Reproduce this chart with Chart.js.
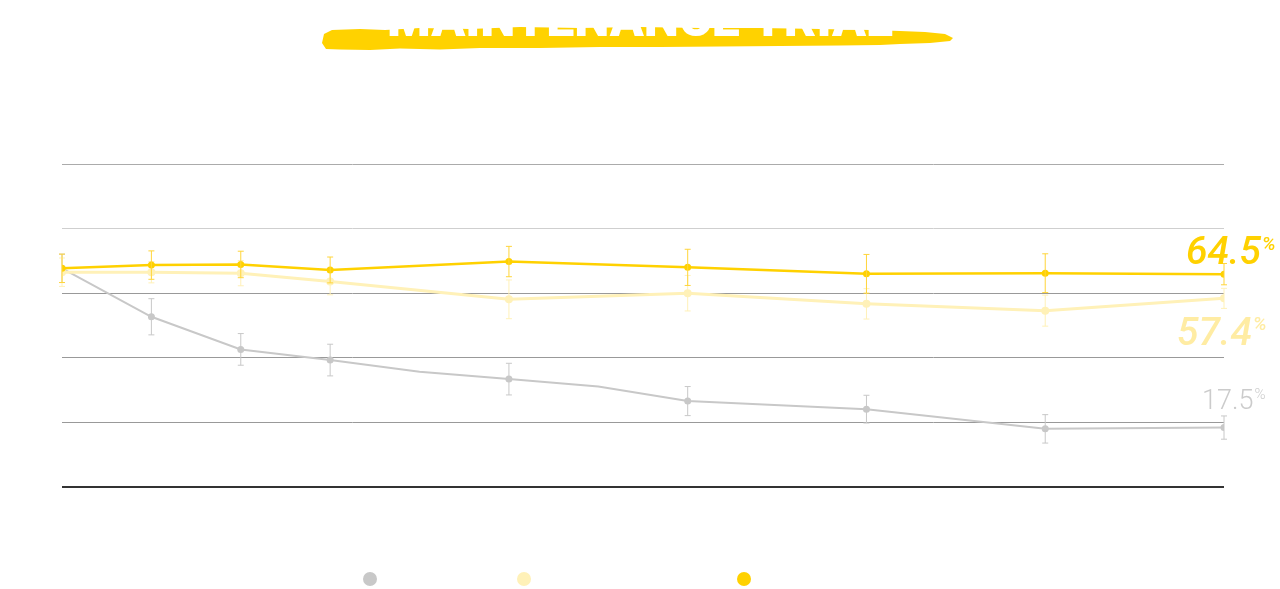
<!DOCTYPE html>
<html>
<head>
<meta charset="utf-8">
<title>Maintenance trial</title>
<script src="https://cdn.jsdelivr.net/npm/chart.js@4.4.1/dist/chart.umd.min.js"></script>
<style>
  html, body { margin: 0; padding: 0; background: #fff; }
  #wrap { position: relative; width: 1280px; height: 589px; }
</style>
</head>
<body>
<div id="wrap"><canvas id="trialChart"></canvas></div>
<script>
// Data (x = week of trial, y = % on 0-100 axis)
const weeks = [0, 4, 8, 12, 20, 28, 36, 44, 52];
const placeboWeeks = [0, 4, 8, 12, 16, 20, 24, 28, 36, 44, 52];

const placebo = [67.7, 52.7, 42.6, 39.3, 35.7, 33.4, 31.1, 26.6, 24.1, 18.0, 18.4];
const placeboErr = [4.4, 5.6, 4.9, 4.9, null, 4.9, null, 4.5, 4.3, 4.4, 3.6];
const lowDose = [66.5, 66.5, 66.2, 63.6, 58.1, 60.0, 56.7, 54.6, 58.4];
const lowDoseErr = [4.4, 3.3, 3.9, 4.1, 6.0, 5.5, 4.7, 4.8, 3.1];
const highDose = [67.7, 68.7, 68.9, 67.2, 69.8, 68.0, 66.0, 66.2, 65.9];
const highDoseErr = [4.4, 4.4, 4.1, 4.0, 4.7, 5.6, 6.0, 6.0, 3.3];

const seriesNames = ['Placebo', 'Low dose', 'High dose'];
const endLabels = ['17.5', '57.4', '64.5'];
const yTicks = [0, 20, 40, 60, 80, 100];
const chartTitle = 'MAINTENANCE TRIAL';

const GRAY = '#c8c8c8';
const LIGHT = '#fff1b8';
const GOLD = '#ffd100';

function toPoints(xs, ys) {
    return xs.map((x, i) => ({ x: x, y: ys[i] }));
}

// gridline colours per tick value
function gridColor(ctx) {
    const v = ctx.tick ? ctx.tick.value : null;
    if (v === 0) return '#333';
    if (v === 80) return '#cfcfcf';
    if (v === 100) return '#ababab';
    return '#999';
}

// Error bars, drawn right after each dataset so stacking follows dataset order
const errorBars = {
    id: 'errorBars',
    afterDatasetDraw(chart, args) {
        const ds = chart.data.datasets[args.index];
        if (!ds.errors) return;
        const ctx = chart.ctx;
        const yScale = chart.scales.y;
        ctx.save();
        ctx.strokeStyle = ds.errorColor || ds.borderColor;
        ctx.lineWidth = 1;
        args.meta.data.forEach((pt, j) => {
            const e = ds.errors[j];
            if (e == null) return;
            const v = ds.data[j].y;
            const top = yScale.getPixelForValue(v + e);
            const bot = yScale.getPixelForValue(v - e);
            ctx.beginPath();
            ctx.moveTo(pt.x, top); ctx.lineTo(pt.x, bot);
            ctx.moveTo(pt.x - 3, top); ctx.lineTo(pt.x + 3, top);
            ctx.moveTo(pt.x - 3, bot); ctx.lineTo(pt.x + 3, bot);
            ctx.stroke();
        });
        ctx.restore();
    }
};

// Value labels at the end of each line
const endValueLabels = {
    id: 'endValueLabels',
    afterDraw(chart) {
        const ctx = chart.ctx;
        const styles = [
            { font: '300 27px Roboto', small: '300 15px Roboto', color: '#cbcbcb', dx: -22, dy: -19, supDy: -10 },
            { font: 'italic 500 39px Roboto', small: 'italic 500 19px Roboto', color: '#ffeca3', dx: -47, dy: 47, supDy: -15 },
            { font: 'italic 500 39px Roboto', small: 'italic 500 19px Roboto', color: '#ffd100', dx: -38, dy: -10, supDy: -14 }
        ];
        chart.data.datasets.forEach((ds, i) => {
            const meta = chart.getDatasetMeta(i);
            const last = meta.data[meta.data.length - 1];
            const s = styles[i];
            ctx.save();
            ctx.fillStyle = s.color;
            ctx.textBaseline = 'alphabetic';
            ctx.textAlign = 'left';
            ctx.font = s.font;
            const x = last.x + s.dx;
            const y = last.y + s.dy;
            ctx.fillText(endLabels[i], x, y);
            const w = ctx.measureText(endLabels[i]).width;
            ctx.font = s.small;
            ctx.fillText('%', x + w + 1, y + s.supDy);
            ctx.restore();
        });
    }
};

// Brush-stroke title and dot legend
const decorations = {
    id: 'decorations',
    beforeDraw(chart) {
        const ctx = chart.ctx;
        ctx.save();
        // brush stroke
        const top = [[324, 34], [332, 30], [360, 29], [385, 30], [420, 28], [470, 29], [520, 27],
                     [580, 28], [640, 27], [700, 28], [760, 28], [820, 29], [870, 30], [900, 31],
                     [925, 32], [945, 34], [953, 38]];
        const bottom = [[950, 41], [930, 43], [900, 44], [880, 45], [840, 45.5], [780, 46],
                        [720, 46.5], [660, 47], [600, 47], [540, 48], [480, 48], [440, 49.5],
                        [400, 48.5], [370, 50], [340, 49.5], [326, 49], [322, 43]];
        ctx.fillStyle = '#ffd200';
        ctx.beginPath();
        top.concat(bottom).forEach((p, i) => i ? ctx.lineTo(p[0], p[1]) : ctx.moveTo(p[0], p[1]));
        ctx.closePath();
        ctx.fill();

        // title text (white, only shows over the stroke)
        ctx.fillStyle = '#fff';
        ctx.textAlign = 'center';
        ctx.textBaseline = 'alphabetic';
        ctx.font = '900 40px Roboto';
        const w = ctx.measureText(chartTitle).width;
        const size = Math.round(40 * 506 / w);
        ctx.font = '900 ' + size + 'px Roboto';
        ctx.fillText(chartTitle, 640, 36);

        // legend
        const legendX = [370, 524, 744];
        const colors = [GRAY, LIGHT, GOLD];
        ctx.textAlign = 'left';
        ctx.textBaseline = 'middle';
        ctx.font = '15px Roboto';
        seriesNames.forEach((name, i) => {
            ctx.fillStyle = colors[i];
            ctx.beginPath();
            ctx.arc(legendX[i], 579, 7, 0, Math.PI * 2);
            ctx.fill();
            ctx.fillStyle = '#fff';
            ctx.fillText(name, legendX[i] + 14, 579);
        });
        ctx.restore();
    }
};

const chart = new Chart(document.getElementById('trialChart'), {
    type: 'line',
    data: {
        datasets: [
            {
                label: seriesNames[0],
                data: toPoints(placeboWeeks, placebo),
                errors: placeboErr,
                borderColor: GRAY,
                backgroundColor: GRAY,
                borderWidth: 2,
                pointRadius: placeboErr.map(e => e == null ? 0 : 3.5),
                pointBorderWidth: 0,
                order: 3
            },
            {
                label: seriesNames[1],
                data: toPoints(weeks, lowDose),
                errors: lowDoseErr,
                borderColor: LIGHT,
                backgroundColor: LIGHT,
                borderWidth: 3,
                pointRadius: 4,
                pointBorderWidth: 0,
                order: 2
            },
            {
                label: seriesNames[2],
                data: toPoints(weeks, highDose),
                errors: highDoseErr,
                errorColor: '#ffd53a',
                borderColor: GOLD,
                backgroundColor: GOLD,
                borderWidth: 2.5,
                pointRadius: 3.5,
                pointBorderWidth: 0,
                order: 1
            }
        ]
    },
    options: {
        responsive: true,
        maintainAspectRatio: false,
        animation: false,
        layout: { padding: { left: 62, right: 56, top: 164, bottom: 102 } },
        plugins: {
            legend: { display: false },
            tooltip: { enabled: false }
        },
        elements: { line: { tension: 0 } },
        scales: {
            x: {
                type: 'linear',
                min: weeks[0],
                max: weeks[weeks.length - 1],
                display: false
            },
            y: {
                min: yTicks[0],
                max: yTicks[yTicks.length - 1],
                afterBuildTicks: axis => { axis.ticks = yTicks.map(v => ({ value: v })); },
                ticks: { display: false },
                border: { display: false },
                grid: {
                    drawTicks: false,
                    color: gridColor,
                    lineWidth: ctx => (ctx.tick && ctx.tick.value === 0 ? 2 : 1)
                }
            }
        }
    },
    plugins: [errorBars, endValueLabels, decorations]
});
</script>
</body>
</html>
